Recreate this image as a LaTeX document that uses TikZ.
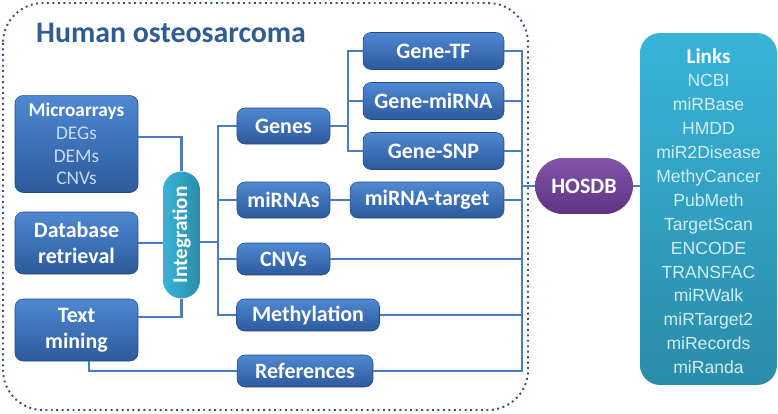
\documentclass[tikz,border=0pt]{standalone}
\usepackage{fontspec}
\setmainfont{Carlito}
\newfontfamily\linksfont{Liberation Sans}
\definecolor{boxtop}{HTML}{4F88D2}
\definecolor{boxbot}{HTML}{2C5A9C}
\definecolor{wire}{HTML}{4C7BC0}
\definecolor{frame}{HTML}{34507A}
\definecolor{titlecol}{HTML}{2F5C91}
\definecolor{subtext}{HTML}{C6DAF5}
\definecolor{tealtop}{HTML}{38B4D8}
\definecolor{tealbot}{HTML}{2A8CA8}
\definecolor{purptop}{HTML}{8254A8}
\definecolor{purpbot}{HTML}{5E3482}
\definecolor{linktext}{HTML}{D3ECF4}
\begin{document}
\begin{tikzpicture}[x=0.02cm, y=-0.02cm,
  bluebox/.style={rounded corners=0.16cm, top color=boxtop, bottom color=boxbot, draw=boxbot!80!black, line width=0.3pt,
    text=white, font=\fontsize{12.5}{15}\selectfont\bfseries, align=center, inner sep=0pt},
  wires/.style={draw=wire, line width=1.2pt}]
\useasboundingbox (0,0) rectangle (778,413);
\draw[frame, line width=1.1pt, dotted, rounded corners=0.8cm] (3,3) rectangle (528,410);
\node[text=titlecol, font=\fontsize{17}{20}\selectfont\bfseries, anchor=west] (title) at (30,33) {Human osteosarcoma};

\node[bluebox, minimum width=2.46cm, minimum height=1.94cm, font=\fontsize{11}{13}\selectfont\bfseries] (micro) at (76.5,144)
  {Microarrays\\ \textcolor{subtext}{\mdseries DEGs}\\ \textcolor{subtext}{\mdseries DEMs}\\ \textcolor{subtext}{\mdseries CNVs}};
\node[bluebox, minimum width=2.46cm, minimum height=1.24cm] (dbret) at (76.5,243) {Database\\ retrieval};
\node[bluebox, minimum width=2.46cm, minimum height=1.24cm] (txtmin) at (76.5,330) {Text\\ mining};
\node[rounded corners=0.37cm, left color=tealtop, right color=tealbot, minimum width=0.74cm, minimum height=2.54cm,
  inner sep=0pt] (integ) at (181.5,235) {};
\node[text=white, font=\fontsize{12}{13}\selectfont\bfseries, rotate=90] (integlbl) at (integ.center) {Integration};

\node[bluebox, minimum width=1.86cm, minimum height=0.72cm] (genes) at (283.5,126) {Genes};
\node[bluebox, minimum width=1.86cm, minimum height=0.72cm] (mirnas) at (283.5,200) {miRNAs};
\node[bluebox, minimum width=1.86cm, minimum height=0.64cm] (cnvs) at (283.5,259) {CNVs};
\node[bluebox, minimum width=2.86cm, minimum height=0.64cm] (methyl) at (308,315) {Methylation};
\node[bluebox, minimum width=2.72cm, minimum height=0.64cm] (refs) at (305,371) {References};

\node[bluebox, minimum width=2.82cm, minimum height=0.74cm] (genetf) at (433.5,51) {Gene-TF};
\node[bluebox, minimum width=2.82cm, minimum height=0.74cm] (genemir) at (433.5,101) {Gene-miRNA};
\node[bluebox, minimum width=2.82cm, minimum height=0.74cm] (genesnp) at (433.5,151) {Gene-SNP};
\node[bluebox, minimum width=3.08cm, minimum height=0.72cm] (mirtar) at (427,200) {miRNA-target};

\node[rounded corners=0.56cm, top color=purptop, bottom color=purpbot, minimum width=1.96cm, minimum height=1.12cm,
  inner sep=0pt, text=white, font=\fontsize{12.5}{14}\selectfont\bfseries] (hosdb) at (584,186) {HOSDB};
\node[rounded corners=0.4cm, top color=tealtop, bottom color=tealbot, minimum width=2.74cm, minimum height=7.04cm,
  inner sep=0pt] (links) at (708.5,209) {};
\node[text=linktext, font=\linksfont\fontsize{10}{13.6}\selectfont, align=center, anchor=north] (linklist) at (708.5,42)
  {\textcolor{white}{\fontspec{Carlito}\bfseries\fontsize{12}{13.6}\selectfont Links}\\ NCBI\\ miRBase\\ HMDD\\ miR2Disease\\ MethyCancer\\ PubMeth\\
   TargetScan\\ ENCODE\\ TRANSFAC\\ miRWalk\\ miRTarget2\\ miRecords\\ miRanda};

\coordinate (lbus) at (218,242);
\coordinate (gbus) at (348,126);
\coordinate (rbus) at (522,186);

\draw[wires] ([yshift=0.14cm]micro.east) -| (integ.north);
\draw[wires] (dbret.east) -- (integ.west|-dbret.east);
\draw[wires] (txtmin.east|-0,317) -| (integ.south);
\draw[wires] (integ.east|-lbus) -- (lbus);
\draw[wires] (genes.west) -| (lbus|-methyl.west) -- (methyl.west);
\draw[wires] (lbus|-mirnas.west) -- (mirnas.west);
\draw[wires] (lbus|-cnvs.west) -- (cnvs.west);
\draw[wires] (genes.east) -- (gbus);
\draw[wires] (genetf.west) -| (gbus|-genesnp.west) -- (genesnp.west);
\draw[wires] (gbus|-genemir.west) -- (genemir.west);
\draw[wires] (mirnas.east) -- (mirtar.west);
\draw[wires] (genetf.east) -| (rbus|-refs.east) -- (refs.east);
\draw[wires] (genemir.east) -- (rbus|-genemir.east);
\draw[wires] (genesnp.east) -- (rbus|-genesnp.east);
\draw[wires] (mirtar.east) -- (rbus|-mirtar.east);
\draw[wires] (cnvs.east) -- (rbus|-cnvs.east);
\draw[wires] (methyl.east) -- (rbus|-methyl.east);
\draw[wires] (rbus) -- (hosdb.west);
\draw[wires] (hosdb.east) -- (links.west|-hosdb.east);
\draw[wires] ([xshift=0.25cm]txtmin.south) |- (refs.west);
\end{tikzpicture}
\end{document}
